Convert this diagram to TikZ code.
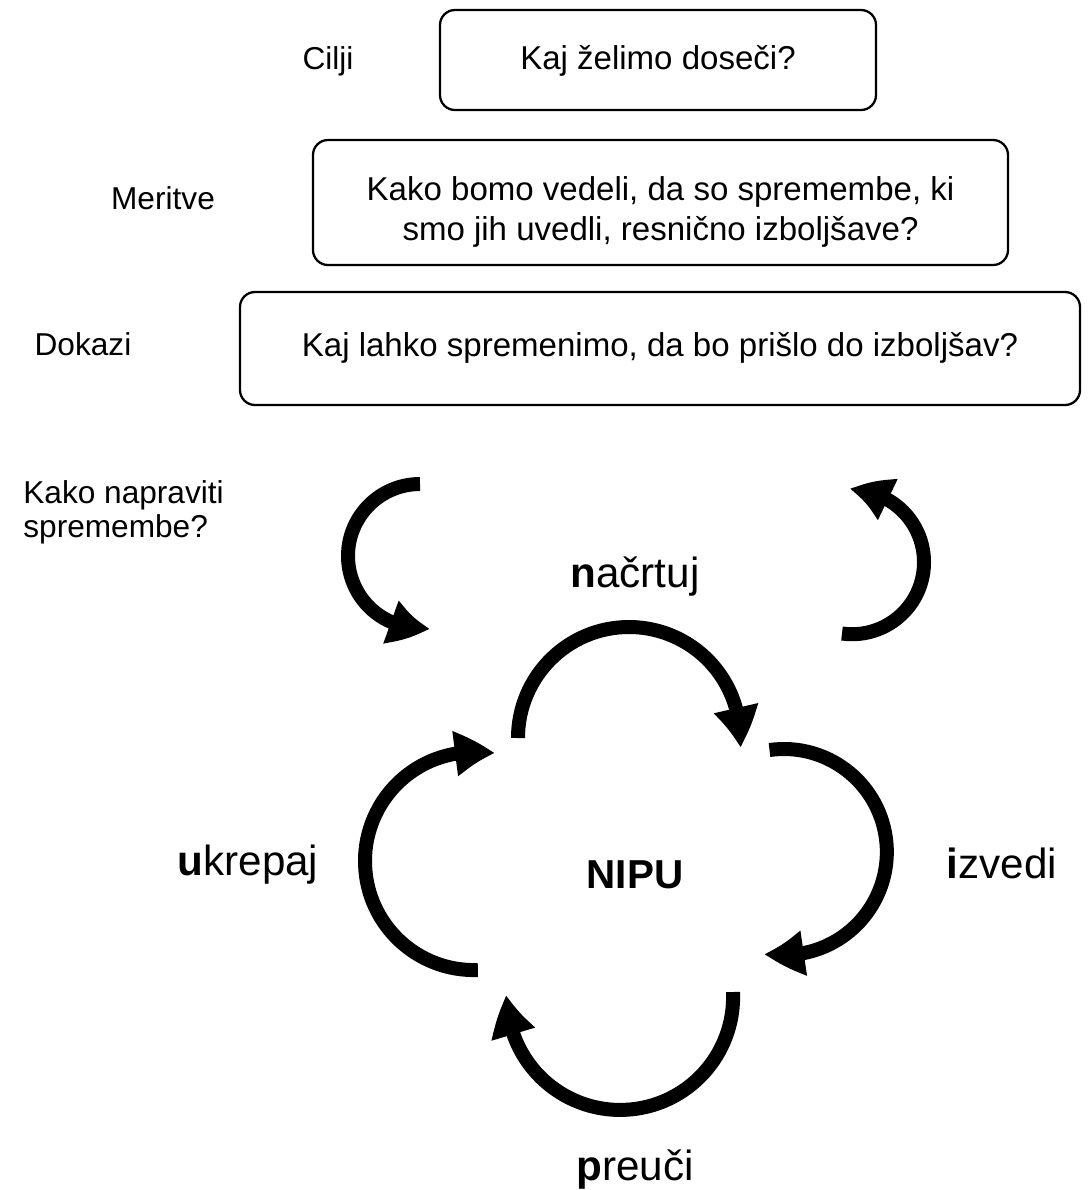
\documentclass[tikz,border=0pt]{standalone}
\usepackage{fontspec}
\setmainfont{Liberation Sans}
\usetikzlibrary{positioning,arrows.meta,bending}
\tikzstyle{qbox} = [draw,line width=1.3pt,rounded corners=0.3cm,align=center,font=\fontsize{18.8}{22.5}\selectfont]
\tikzstyle{side} = [inner sep=0pt,font=\fontsize{18}{19}\selectfont]
\tikzstyle{cyc} = [line width=0.28cm,-{Triangle[length=0.8cm,width=0.85cm,bend]}]
\tikzstyle{step name} = [inner sep=0pt,anchor=base,font=\fontsize{24}{28}\selectfont]

\begin{document}
\begin{tikzpicture}
  \useasboundingbox (0,0) rectangle (21.82,-23.8);
  \node[qbox, minimum width=8.72cm, minimum height=2.0cm, text height=1.5em] (goalq) at (13.16,-1.2) {Kaj želimo doseči?};
  \node[qbox, minimum width=13.9cm, minimum height=2.5cm] (measq) at (13.21,-4.05) {\rule{0pt}{1.3em}Kako bomo vedeli, da so spremembe, ki\\smo jih uvedli, resnično izboljšave?};
  \node[qbox, minimum width=16.8cm, minimum height=2.26cm, text height=1.25em] (evidq) at (13.2,-6.97) {Kaj lahko spremenimo, da bo prišlo do izboljšav?};

  \node[side, anchor=base] (cilji) at (6.56,-1.38) {Cilji};
  \node[side, anchor=base] (meritve) at (3.26,-4.18) {Meritve};
  \node[side, anchor=base] (dokazi) at (1.66,-7.1) {Dokazi};
  \node[side, anchor=west, align=left] (howto) at (0.46,-10.25) {Kako napraviti\\spremembe?};

  \coordinate (leadin) at (8.4,-9.68);
  \coordinate (leadout) at (16.84,-12.67);
  \draw[cyc] (leadin) arc[start angle=90, end angle=278, radius=1.44];
  \draw[cyc] (leadout) arc[start angle=-98, end angle=92, radius=1.44];

  \node[step name] (plan) at (12.7,-11.74) {\textbf{n}ačrtuj};
  \node[step name] (do) at (20.04,-17.56) {\textbf{i}zvedi};
  \node[step name] (study) at (12.7,-23.6) {\textbf{p}reuči};
  \node[step name] (act) at (4.96,-17.5) {\textbf{u}krepaj};
  \node[inner sep=0pt, anchor=base, font=\fontsize{23}{27}\selectfont\bfseries] (nipu) at (12.7,-17.76) {NIPU};

  \coordinate (planS) at (10.36,-14.76);
  \coordinate (doS) at (15.39,-15.0);
  \coordinate (studyS) at (14.66,-19.84);
  \coordinate (actS) at (9.556,-19.40);
  \draw[cyc] (planS) arc[start angle=180, end angle=-5, radius=2.22];
  \draw[cyc] (doS) arc[start angle=98, end angle=-101, radius=2.06];
  \draw[cyc] (studyS) arc[start angle=2.5, end angle=-181, radius=2.26];
  \draw[cyc] (actS) arc[start angle=272, end angle=79, radius=2.18];
\end{tikzpicture}
\end{document}
